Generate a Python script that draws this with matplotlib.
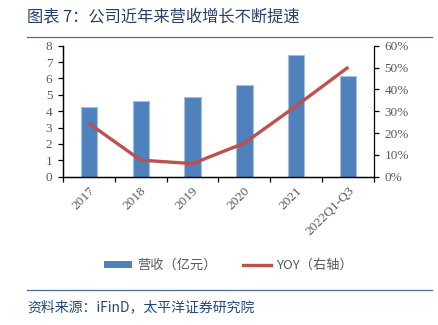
import matplotlib.pyplot as plt
from matplotlib.lines import Line2D
from matplotlib.patches import Patch
from matplotlib.ticker import FuncFormatter, MultipleLocator
import matplotlib.transforms as mtransforms
import numpy as np

plt.rcParams['font.family'] = ['Noto Sans CJK SC', 'DejaVu Sans']

# data
years = ['2017', '2018', '2019', '2020', '2021', '2022Q1-Q3']
revenue = [4.25, 4.6, 4.86, 5.6, 7.42, 6.12]          # 亿元
yoy = [24.5, 7.6, 6.0, 15.4, 32.5, 50.2]               # %

bar_col = '#4F81BD'
line_col = '#C0504D'
tick_col = '#595959'
serif = ['Liberation Serif', 'DejaVu Serif']

fig = plt.figure(figsize=(4.39, 3.25), dpi=100)
ax = fig.add_axes([0.1428, 0.4563, 0.7098, 0.4031])

x = np.arange(len(years))
ax.bar(x, revenue, width=0.31, color=bar_col, edgecolor='#A7BFDE', linewidth=0.8, zorder=2)
ax.set_xlim(-0.5, len(years) - 0.5)
ax.set_ylim(0, 8)
ax.yaxis.set_major_locator(MultipleLocator(1))

ax2 = ax.twinx()
ax2.plot(x, yoy, color=line_col, lw=2.4, solid_capstyle='butt', zorder=3)
ax2.set_ylim(0, 60)
ax2.yaxis.set_major_locator(MultipleLocator(10))
ax2.yaxis.set_major_formatter(FuncFormatter(lambda v, p: '%d%%' % v))

for a in (ax, ax2):
    a.spines['top'].set_visible(False)
    for s in a.spines.values():
        s.set_color('black')
        s.set_linewidth(0.9)
    a.tick_params(axis='y', direction='out', length=3.5, width=0.9, pad=4,
                  labelsize=9.5, labelcolor=tick_col)
    for lab in a.get_yticklabels():
        lab.set_fontfamily(serif)
ax.spines['right'].set_visible(False)

# category boundaries as ticks, labels at the centres
ax.set_xticks(np.arange(-0.5, len(years)), minor=True)
ax.set_xticks(x)
ax.tick_params(axis='x', which='minor', direction='out', length=3.5, width=0.9)
ax.tick_params(axis='x', which='major', length=0, pad=9)
ax.set_xticklabels(years, rotation=45, ha='right', va='center', rotation_mode='anchor',
                   fontsize=9.5, color=tick_col, fontfamily=serif)
shift = mtransforms.ScaledTranslation(4 / 100, 0, fig.dpi_scale_trans)
for lab in ax.get_xticklabels():
    lab.set_transform(lab.get_transform() + shift)

# title and rules
fig.text(0.062, 0.948, '图表 7：公司近年来营收增长不断提速', fontsize=11.7,
         color='#24406B', ha='left', va='center')
fig.add_artist(Line2D([0.062, 0.984], [0.886, 0.886], color='#4F6D9A', lw=0.9))
fig.add_artist(Line2D([0.062, 0.984], [0.108, 0.108], color='#4F6D9A', lw=0.9))
fig.text(0.062, 0.055, '资料来源：iFinD，太平洋证券研究院', fontsize=10, style='italic',
         color='#1F497D', ha='left', va='center')

handles = [Patch(facecolor=bar_col, edgecolor='none'),
           Line2D([0], [0], color=line_col, lw=2.4)]
fig.legend(handles, ['营收（亿元）', 'YOY（右轴）'], loc='center', ncol=2,
           bbox_to_anchor=(0.52, 0.183), frameon=False, fontsize=9.5,
           labelcolor=tick_col, handlelength=2.1, handleheight=0.5,
           columnspacing=2.0, handletextpad=0.4)

fig.savefig('out.png', dpi=100)
